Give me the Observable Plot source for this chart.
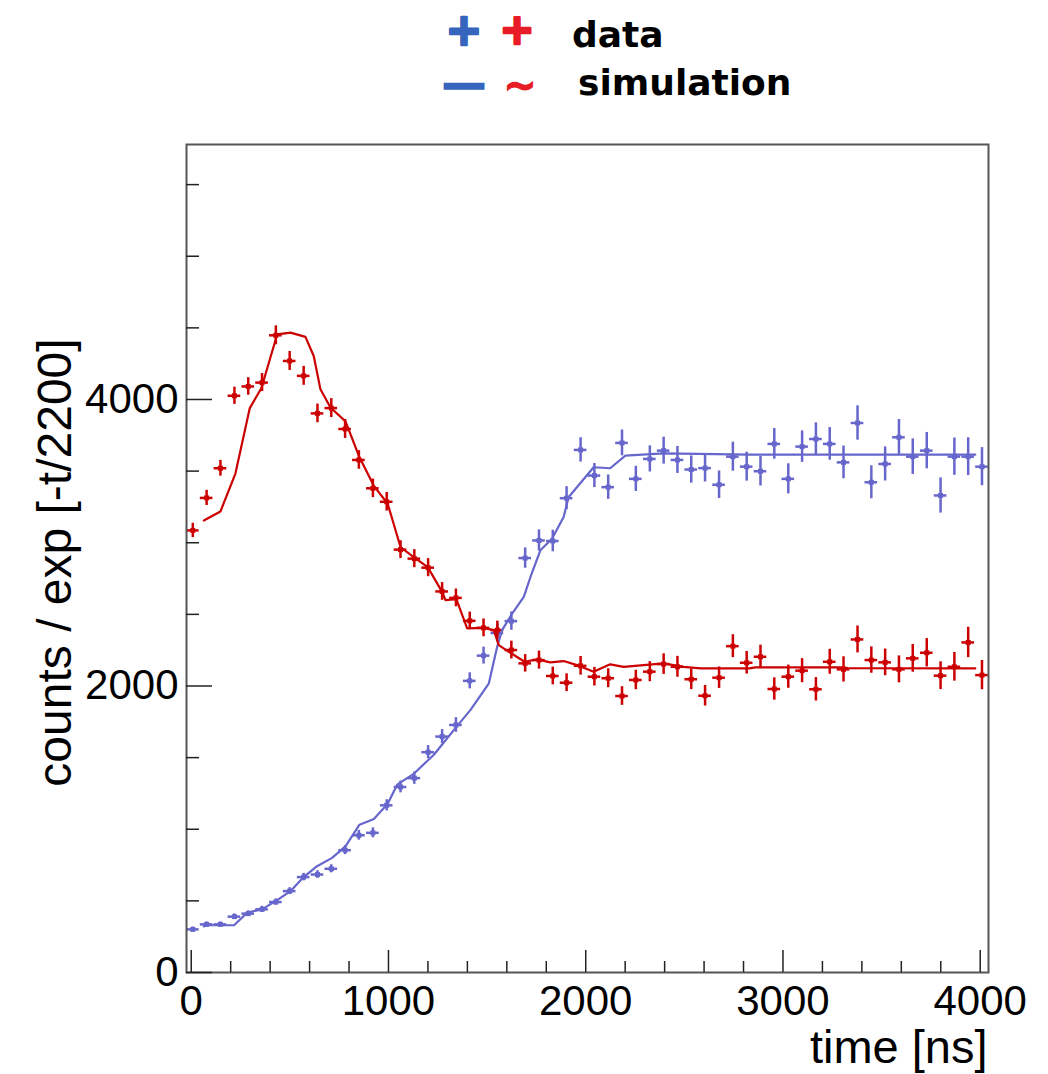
<!DOCTYPE html>
<html>
<head>
<meta charset="utf-8">
<script src="https://cdn.jsdelivr.net/npm/d3@7"></script>
<script src="https://cdn.jsdelivr.net/npm/@observablehq/plot@0.6"></script>
<style>
  body { margin: 0; background: #fff; }
  #legend { display: block; width: 1048px; height: 110px; }
  #chart { width: 1048px; }
</style>
</head>
<body>
<svg id="legend" width="1048" height="110" xmlns="http://www.w3.org/2000/svg">
  <g font-family="'DejaVu Sans', sans-serif" font-weight="bold">
    <text x="464" y="45" font-size="44" fill="#3565bd" stroke="#3565bd" stroke-width="2.5" stroke-linejoin="round" text-anchor="middle">+</text>
    <text x="517" y="44" font-size="42" fill="#e81c26" stroke="#e81c26" stroke-width="2.5" stroke-linejoin="round" text-anchor="middle">+</text>
    <text x="572" y="47" font-size="36" fill="#000">data</text>
    <text x="464" y="98" font-size="44" fill="#3565bd" stroke="#3565bd" stroke-width="1.5" text-anchor="middle">—</text>
    <text x="520" y="99" font-size="40" fill="#e81c26" stroke="#e81c26" stroke-width="1" text-anchor="middle">~</text>
    <text x="578" y="95" font-size="36" fill="#000">simulation</text>
  </g>
</svg>
<div id="chart"></div>
<script>
// bin centres of the measured histograms [ns]
const times = [8,78,148,219,289,359,429,499,570,640,710,780,850,921,991,1061,1131,1201,1272,1342,1412,1482,1552,1623,1693,1763,1833,1903,1974,2044,2114,2184,2254,2325,2395,2465,2535,2605,2676,2746,2816,2886,2956,3027,3097,3167,3237,3307,3378,3448,3518,3588,3658,3729,3799,3869,3939,4009];
// red data (counts / exp[-t/2200])
const redData = [3086,3313,3520,4026,4091,4118,4448,4269,4165,3903,3940,3794,3578,3380,3286,2952,2889,2826,2660,2615,2455,2406,2390,2251,2158,2181,2070,2023,2141,2065,2054,1930,2042,2100,2153,2134,2047,1932,2058,2278,2162,2204,1979,2065,2107,1977,2169,2116,2325,2181,2165,2116,2193,2232,2072,2134,2304,2076];
const redErr = [50,53,55,60,61,63,66,66,66,65,66,66,65,65,65,62,63,63,62,62,61,62,63,62,61,63,62,62,65,65,66,65,68,70,72,73,72,72,75,80,79,81,78,81,84,82,87,88,94,92,93,94,97,99,97,100,106,102];
// blue data
const blueData = [301,336,336,390,411,441,492,568,666,684,724,854,958,975,1167,1295,1357,1538,1647,1728,2036,2212,2370,2453,2893,3016,3012,3311,3648,3469,3388,3697,3446,3585,3643,3578,3511,3521,3405,3601,3531,3499,3690,3446,3671,3724,3690,3561,3836,3422,3550,3736,3601,3643,3330,3601,3601,3531];
const blueErr = [16,17,17,19,19,21,22,24,26,27,28,31,34,35,39,41,43,46,49,51,56,59,62,64,71,74,75,80,85,84,85,90,88,91,94,94,95,97,96,101,101,103,107,105,110,113,114,114,120,115,119,124,124,127,123,130,132,133];
const binHalfWidth = 32;
// simulation curves
const redSimTime = [64,148,224,297,356,436,503,579,621,655,706,782,853,925,996,1061,1128,1199,1272,1289,1344,1399,1480,1534,1559,1618,1690,1753,1821,1888,1956,2040,2124,2192,2395,2496,2583,2830,2860,3300,3330,3975];
const redSim = [3155,3218,3483,3940,4080,4455,4467,4437,4304,4072,3944,3847,3596,3399,3272,2970,2900,2830,2657,2599,2606,2402,2406,2390,2285,2232,2169,2186,2165,2174,2146,2100,2151,2134,2158,2134,2123,2123,2130,2130,2125,2123];
const blueSimTime = [64,78,217,284,359,436,503,570,638,714,782,853,926,996,1044,1128,1230,1264,1332,1416,1509,1551,1576,1627,1686,1720,1770,1829,1888,1913,2040,2124,2201,2395,2830,3975];
const blueSim = [322,330,330,418,441,505,568,666,742,800,881,1032,1072,1178,1311,1387,1520,1578,1694,1833,2019,2274,2390,2506,2622,2761,2947,3028,3179,3318,3527,3520,3608,3624,3615,3615];
// axis ticks
const xMajor = [0,1000,2000,3000,4000];
const xMinor = [200,400,600,800,1200,1400,1600,1800,2200,2400,2600,2800,3200,3400,3600,3800];
const yMajor = [0,2000,4000];
const yMinor = [500,1000,1500,2500,3000,3500,4500,5000,5500];
const xTitle = "time [ns]";
const yTitle = "counts / exp [-t/2200]";

const RED = "#cc0000";
const BLUE = "#6666cc";

const red = times.map((t, i) => ({t, v: redData[i], e: redErr[i]}));
const blue = times.map((t, i) => ({t, v: blueData[i], e: blueErr[i]}));
const redS = redSimTime.map((t, i) => ({t, v: redSim[i]}));
const blueS = blueSimTime.map((t, i) => ({t, v: blueSim[i]}));

function dataMarks(arr, color) {
  return [
    Plot.ruleX(arr, {x: "t", y1: d => d.v - d.e, y2: d => d.v + d.e, stroke: color, strokeWidth: 2.5}),
    Plot.ruleY(arr, {y: "v", x1: d => d.t - binHalfWidth, x2: d => d.t + binHalfWidth, stroke: color, strokeWidth: 2.5}),
    Plot.dot(arr, {x: "t", y: "v", symbol: "square", r: 2.8, fill: color})
  ];
}

const font = "'Liberation Sans', Arial, Helvetica, sans-serif";
const chart = Plot.plot({
  width: 1048,
  height: 964,
  marginLeft: 186,
  marginRight: 60,
  marginTop: 34,
  marginBottom: 102,
  x: {domain: [-24, 4042], label: null},
  y: {domain: [0, 5780], label: null},
  style: {fontFamily: font, fontSize: "42px", color: "#000", background: "#fff", overflow: "visible"},
  marks: [
    ...dataMarks(blue, BLUE),
    ...dataMarks(red, RED),
    Plot.line(blueS, {x: "t", y: "v", stroke: BLUE, strokeWidth: 2.2}),
    Plot.line(redS, {x: "t", y: "v", stroke: RED, strokeWidth: 2.2}),
    Plot.frame({stroke: "#555", strokeWidth: 2}),
    Plot.axisX({ticks: xMajor, tickSize: -22, tickFormat: () => "", label: null, stroke: "#222", strokeWidth: 1.5}),
    Plot.axisX({ticks: xMinor, tickSize: -11, tickFormat: () => "", label: null, stroke: "#222", strokeWidth: 1.5}),
    Plot.axisX({ticks: xMajor, tickSize: 0, tickPadding: 13, fontSize: 42, tickFormat: d => String(d), label: null}),
    Plot.axisY({ticks: yMajor, tickSize: -26, tickFormat: () => "", label: null, stroke: "#222", strokeWidth: 1.5}),
    Plot.axisY({ticks: yMinor, tickSize: -13, tickFormat: () => "", label: null, stroke: "#222", strokeWidth: 1.5}),
    Plot.axisY({ticks: yMajor, tickSize: 0, tickPadding: 8, fontSize: 42, tickFormat: d => String(d), label: null}),
    Plot.text([xTitle], {frameAnchor: "bottom-right", text: d => d, textAnchor: "end", lineAnchor: "bottom", dy: 90, dx: -1, fontSize: 47, fill: "#000"}),
    Plot.text([yTitle], {frameAnchor: "left", text: d => d, textAnchor: "middle", lineAnchor: "bottom", rotate: -90, dx: -116, dy: 4, fontSize: 48, fill: "#000"})
  ]
});
document.getElementById("chart").appendChild(chart);
</script>
</body>
</html>
